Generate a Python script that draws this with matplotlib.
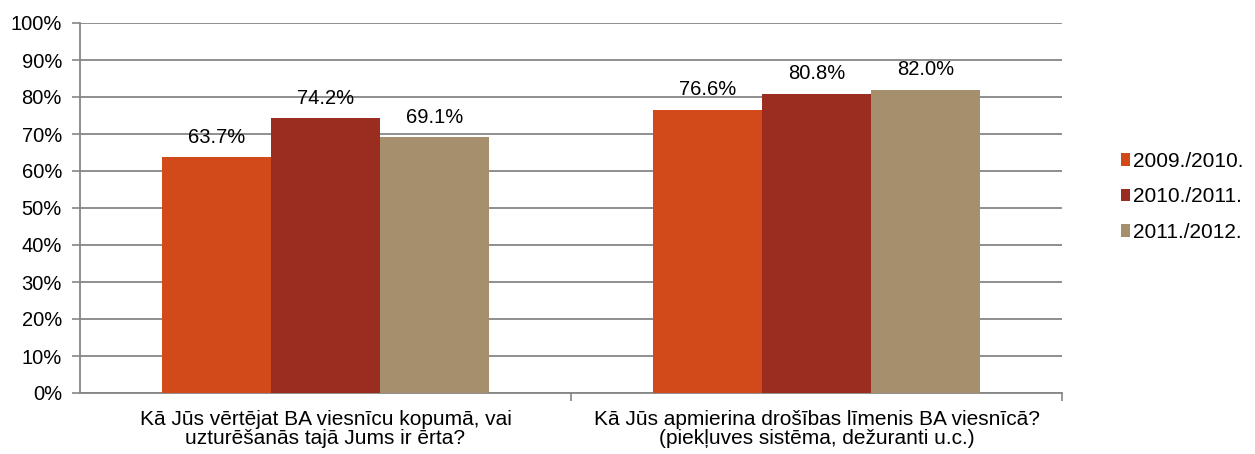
import numpy as np
import matplotlib.pyplot as plt
from matplotlib.ticker import FixedLocator

plt.rcParams["font.family"] = ["Liberation Sans", "DejaVu Sans"]

categories = [
    "Kā Jūs vērtējat BA viesnīcu kopumā, vai\nuzturēšanās tajā Jums ir ērta?",
    "Kā Jūs apmierina drošības līmenis BA viesnīcā?\n(piekļuves sistēma, dežuranti u.c.)",
]
series_names = ["2009./2010.", "2010./2011.", "2011./2012."]
values = [
    [63.7, 76.6],
    [74.2, 80.8],
    [69.1, 82.0],
]
colors = ["#D24A19", "#9B2C20", "#A58F6D"]

fig = plt.figure(figsize=(12.55, 4.54), dpi=100)
ax = fig.add_axes([80 / 1255, 1 - 393 / 454, (1062 - 80) / 1255, (393 - 23) / 454])

x = np.arange(len(categories))
width = 0.222
for i, (name, vals, col) in enumerate(zip(series_names, values, colors)):
    pos = x + (i - 1) * width
    bars = ax.bar(pos, vals, width, color=col, label=name, zorder=3)
    for b, v in zip(bars, vals):
        ax.text(b.get_x() + b.get_width() / 2, v + 4.0, f"{v:.1f}%",
                ha="center", va="baseline", fontsize=14.5, zorder=4)

ax.set_xlim(-0.5, 1.5)
ax.set_ylim(0, 100)
ax.set_yticks(range(0, 101, 10))
ax.set_yticklabels([f"{t}%" for t in range(0, 101, 10)], fontsize=14.5)
ax.yaxis.grid(True, color="#868686", linewidth=1.3, zorder=0)
ax.set_xticks(x)
ax.set_xticklabels(categories, fontsize=15, linespacing=1.03)
ax.xaxis.set_minor_locator(FixedLocator([0.5, 1.5]))
ax.tick_params(axis="x", which="major", length=0, pad=12)
ax.tick_params(axis="x", which="minor", length=6, color="#868686", width=1.2)
ax.tick_params(axis="y", length=6, color="#868686", width=1.2, pad=7)

for s in ["top", "right"]:
    ax.spines[s].set_visible(False)
for s in ["left", "bottom"]:
    ax.spines[s].set_color("#868686")
    ax.spines[s].set_linewidth(1.3)

ax.legend(loc="center left", bbox_to_anchor=(1.06, 0.53), frameon=False,
          fontsize=15, handlelength=0.45, handleheight=0.55,
          handletextpad=0.15, labelspacing=0.8, borderaxespad=0, borderpad=0)

fig.savefig("out.png", dpi=100)
